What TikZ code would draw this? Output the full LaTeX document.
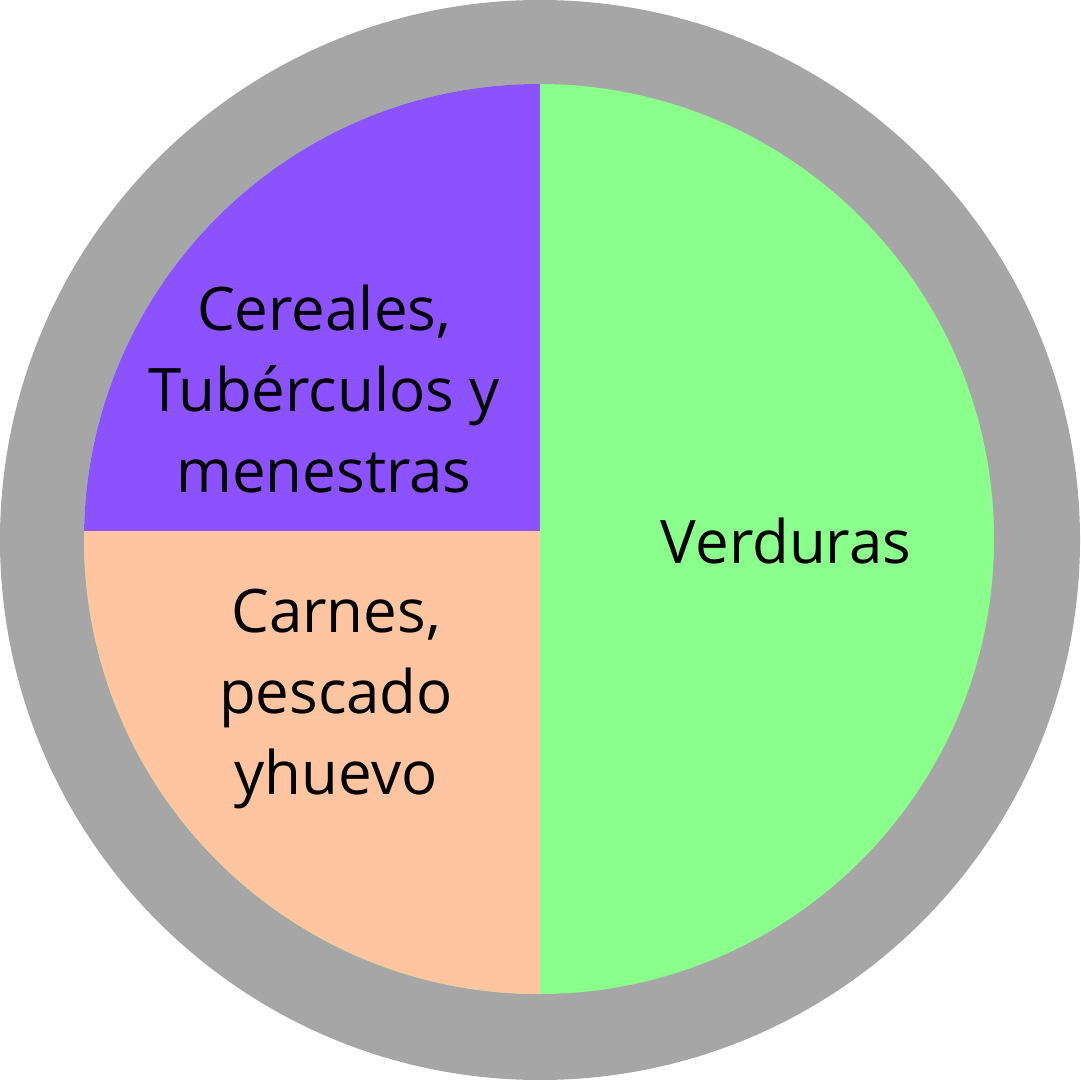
\documentclass[tikz,border=0pt]{standalone}
\usepackage{fontspec}
\setmainfont{Open Sans}
\definecolor{ringgrey}{HTML}{A6A6A6}
\definecolor{cerealpurple}{HTML}{8C52FF}
\definecolor{veggreen}{HTML}{8AFF8C}
\definecolor{meatpeach}{HTML}{FFC4A0}
\begin{document}
\begin{tikzpicture}[x=0.5pt,y=-0.5pt,
  lbl/.style={font=\fontsize{30}{40.5}\selectfont, align=center, inner sep=0pt, text=black}]
\useasboundingbox (0,0) rectangle (1080,1080);
\fill[ringgrey] (540,540) circle[radius=540];
\begin{scope}
  \clip (539,539) circle[radius=455];
  \fill[veggreen] (0,0) rectangle (1080,1080);
  \fill[cerealpurple] (0,0) rectangle (540,531);
  \fill[meatpeach] (0,531) rectangle (540,1080);
\end{scope}
\node[lbl, anchor=base] (cer) at (324,492) {Cereales,\\Tubérculos y\\menestras};
\node[lbl, anchor=base] (car) at (336,794) {Carnes,\\pescado\\yhuevo};
\node[lbl, anchor=base] (ver) at (786,563) {Verduras};
\end{tikzpicture}
\end{document}
